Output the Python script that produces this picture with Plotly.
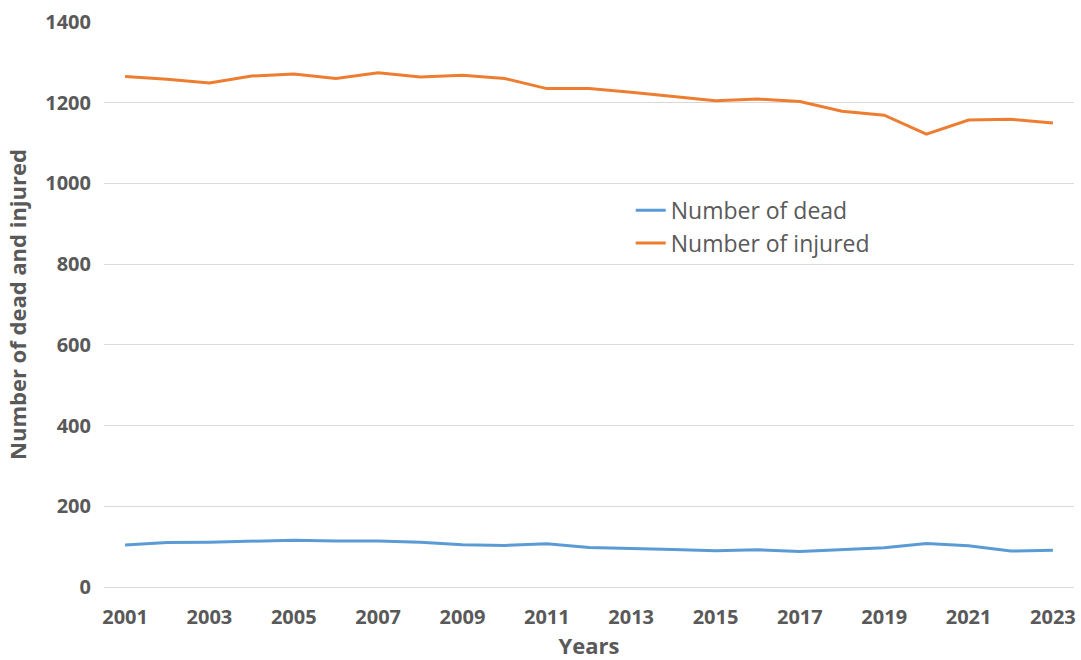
import plotly.graph_objects as go

years = list(range(2001, 2024))
dead = [104, 110, 111, 113, 116, 114, 114, 111, 105, 103, 107, 98, 96, 93, 90, 92, 88, 92, 97, 108, 102, 89, 91]
injured = [1265, 1258, 1249, 1266, 1271, 1260, 1274, 1264, 1268, 1260, 1235, 1235, 1226, 1215, 1205, 1209, 1203, 1179, 1169, 1122, 1157, 1159, 1150]
y_ticks = [0, 200, 400, 600, 800, 1000, 1200, 1400]
x_ticks = list(range(2001, 2024, 2))

FONT = "Open Sans"
GRAY = "#595959"

fig = go.Figure()
fig.add_trace(go.Scatter(x=years, y=dead, mode="lines", name="Number of dead",
                         line=dict(color="#5B9BD5", width=3)))
fig.add_trace(go.Scatter(x=years, y=injured, mode="lines", name="Number of injured",
                         line=dict(color="#ED7D31", width=3)))

fig.update_layout(
    width=1081, height=660,
    margin=dict(l=104, r=5, t=22, b=73),
    plot_bgcolor="white", paper_bgcolor="white",
    font=dict(family=FONT, color=GRAY),
    showlegend=True,
    legend=dict(x=0.543, y=0.705, xanchor="left", yanchor="top",
                font=dict(size=23, color=GRAY, family=FONT),
                bgcolor="rgba(0,0,0,0)", tracegroupgap=0, itemwidth=30),
    xaxis=dict(range=[2000.5, 2023.5], tickvals=x_ticks, ticktext=[str(v) for v in x_ticks],
               showgrid=False, zeroline=False, showline=True, linecolor="#D9D9D9", linewidth=1,
               ticks="", ticklabelstandoff=12,
               tickfont=dict(size=20, color=GRAY, family=FONT, weight="bold"),
               title=dict(text="Years", font=dict(size=22, color=GRAY, family=FONT, weight="bold"), standoff=6)),
    yaxis=dict(range=[0, 1400], tickvals=y_ticks, showgrid=True, gridcolor="#D9D9D9", gridwidth=1,
               zeroline=True, zerolinecolor="#D9D9D9", zerolinewidth=1, ticks="",
               ticklabelstandoff=12,
               tickfont=dict(size=20, color=GRAY, family=FONT, weight="bold"),
               title=dict(text="Number of dead and injured",
                          font=dict(size=22, color=GRAY, family=FONT, weight="bold"), standoff=12)),
)

fig.write_html("out.html")
